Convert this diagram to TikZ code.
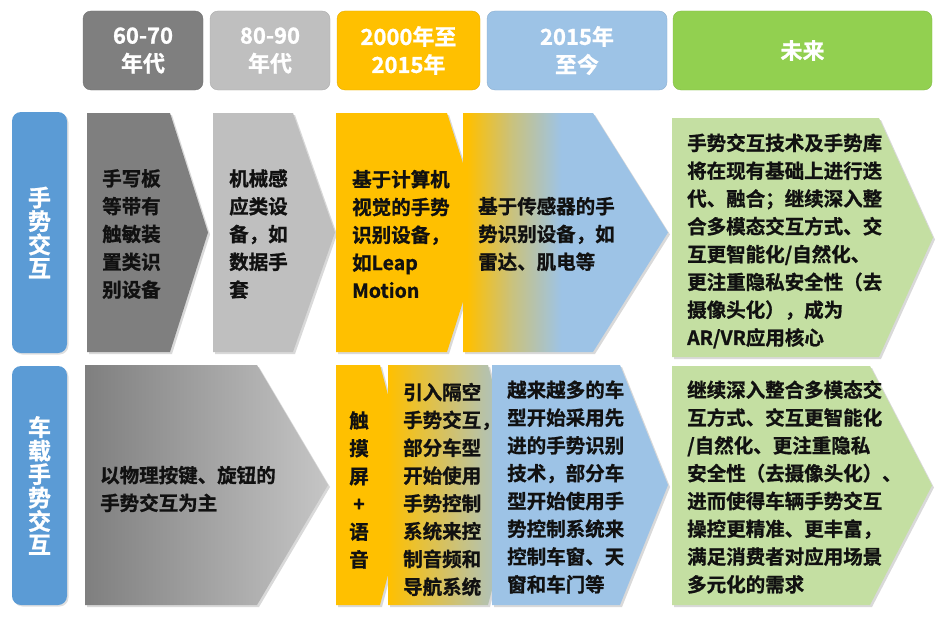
\documentclass[tikz,border=0pt]{standalone}
\usepackage{fontspec}
\setmainfont{Noto Sans CJK SC}[BoldFont={Noto Sans CJK SC Bold}, BoldFeatures={FakeBold=1}]
\usepackage{xcolor}
\usetikzlibrary{shadows}
\definecolor{GrayDark}{HTML}{7F7F7F}
\definecolor{GrayLight}{HTML}{BFBFBF}
\definecolor{Gold}{HTML}{FFC000}
\definecolor{Sky}{HTML}{9DC3E6}
\definecolor{Lime}{HTML}{92D050}
\definecolor{Sage}{HTML}{C4DFA2}
\definecolor{RowBlue}{HTML}{5B9BD5}
\definecolor{Ink}{HTML}{111111}
\pgfdeclarehorizontalshading{goldsky}{100bp}{color(0bp)=(Gold); color(26bp)=(Gold); color(37bp)=(Gold!45!Sky); color(49bp)=(Sky); color(100bp)=(Sky)}

\begin{document}
\begin{tikzpicture}[
    x=1pt, y=-1pt,
    era/.style={
        rounded corners=8pt, minimum height=79pt, align=center,
        text=white, font=\fontsize{22}{28}\selectfont\bfseries
    },
    rowlbl/.style={
        fill=RowBlue, rounded corners=9pt, minimum width=55pt,
        align=center, text=white, font=\fontsize{23}{23.5}\selectfont\bfseries,
        drop shadow={shadow xshift=1.5pt, shadow yshift=-1.5pt, opacity=.25}
    },
    chev/.style={drop shadow={shadow xshift=2pt, shadow yshift=-2pt, opacity=.3}},
    body/.style={
        anchor=west, align=left, text=Ink, inner sep=0pt,
        font=\fontsize{19.5}{27.8}\selectfont\bfseries
    }
]
\useasboundingbox (0,0) rectangle (945,618);

% =============================================
% Header: periods
% =============================================
\node[era, fill=GrayDark, draw=GrayDark!90!black, minimum width=120pt] (e1) at (143,50.5) {60-70\\年代};
\node[era, fill=GrayLight, draw=GrayLight!90!black, minimum width=120pt] (e2) at (270,50.5) {80-90\\年代};
\node[era, fill=Gold, draw=Gold!90!black, minimum width=143pt] (e3) at (408.5,50.5) {2000年至\\2015年};
\node[era, fill=Sky, draw=Sky!90!black, minimum width=180pt] (e4) at (577,50.5) {2015年\\至今};
\node[era, fill=Lime, draw=Lime!90!black, minimum width=259pt] (e5) at (802.5,50.5) {未来};

% =============================================
% Row labels
% =============================================
\node[rowlbl, minimum height=241pt] (r1) at (39.5,232.5) {手\\势\\交\\互};
\node[rowlbl, minimum height=239pt] (r2) at (39.5,485.5) {车\\载\\手\\势\\交\\互};

% =============================================
% ROW 1: gesture interaction
% =============================================
\fill[chev, GrayDark] (87,113) -- (170,113) -- (208,232.5) -- (170,352) -- (87,352) -- cycle;
\fill[chev, GrayLight] (213,113) -- (293,113) -- (335,232.5) -- (293,352) -- (213,352) -- cycle;
\fill[chev, Gold] (336,113) -- (447,113) -- (485,232.5) -- (447,352) -- (336,352) -- cycle;
\shade[chev, shading=goldsky] (463,113) -- (593,113) -- (668,232.5) -- (593,352) -- (463,352) -- cycle;
\fill[chev, Sage] (672,118) -- (879,118) -- (933,237.5) -- (879,357) -- (672,357) -- cycle;

\node[body] (a1) at (102,234) {手写板\\等带有\\触敏装\\置类识\\别设备};
\node[body] (a2) at (229,234) {机械感\\应类设\\备，如\\数据手\\套};
\node[body] (a3) at (352,234) {基于计算机\\视觉的手势\\识别设备，\\如Leap\\Motion};
\node[body] (a4) at (478,234) {基于传感器的手\\势识别设备，如\\雷达、肌电等};
\node[body] (a5) at (687,241) {手势交互技术及手势库\\将在现有基础上进行迭\\代、融合；继续深入整\\合多模态交互方式、交\\互更智能化/自然化、\\更注重隐私安全性（去\\摄像头化），成为\\AR/VR应用核心};

% =============================================
% ROW 2: in-vehicle gesture interaction
% =============================================
\shade[chev, left color=GrayDark, right color=GrayLight!90!white] (85,365) -- (257,365) -- (328,485) -- (257,605) -- (85,605) -- cycle;
\fill[chev, Gold] (336,365) -- (380,365) -- (412,485) -- (380,605) -- (336,605) -- cycle;
\shade[chev, left color=Gold, right color=Sky] (388,365) -- (488,365) -- (520,485) -- (488,605) -- (388,605) -- cycle;
\fill[chev, Sky] (492,365) -- (620,365) -- (668,485) -- (620,605) -- (492,605) -- cycle;
\fill[chev, Sage] (672,366) -- (870,366) -- (932,485.5) -- (870,605) -- (672,605) -- cycle;

\node[body] (b1) at (100,489) {以物理按键、旋钮的\\手势交互为主};
\node[body, anchor=center, align=center] (b2) at (359,490) {触\\摸\\屏\\+\\语\\音};
\node[body] (b3) at (403,489.5) {引入隔空\\手势交互，\\部分车型\\开始使用\\手势控制\\系统来控\\制音频和\\导航系统};
\node[body] (b4) at (507,487) {越来越多的车\\型开始采用先\\进的手势识别\\技术，部分车\\型开始使用手\\势控制系统来\\控制车窗、天\\窗和车门等};
\node[body] (b5) at (687,487) {继续深入整合多模态交\\互方式、交互更智能化\\/自然化、更注重隐私\\安全性（去摄像头化）、\\进而使得车辆手势交互\\操控更精准、更丰富，\\满足消费者对应用场景\\多元化的需求};

\end{tikzpicture}
\end{document}
